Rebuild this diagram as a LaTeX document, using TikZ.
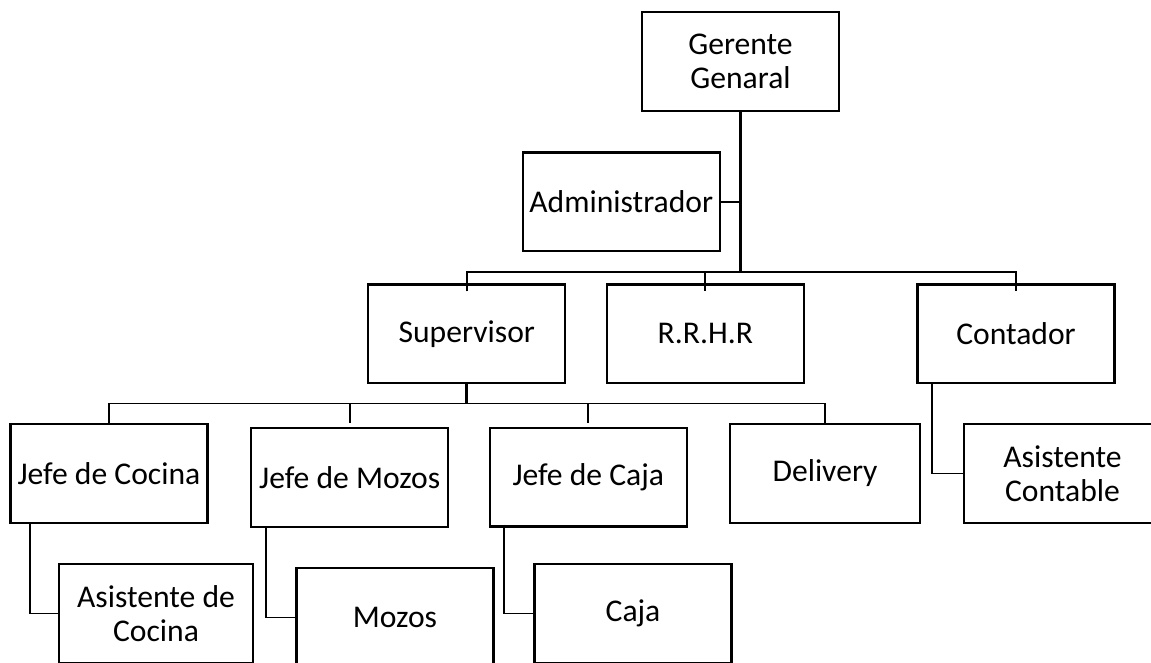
\documentclass[tikz,border=0pt]{standalone}
\usepackage{fontspec}
\setmainfont{Carlito}

\begin{document}
\begin{tikzpicture}[x=0.02cm, y=-0.02cm,
  box/.style={draw, black, line width=1.3pt, minimum width=3.94cm, minimum height=1.97cm, inner sep=2pt, align=center, font=\fontsize{18}{19.4}\selectfont},
  link/.style={black, line width=1.1pt},
  trunk/.style={black, line width=1.8pt}]
\useasboundingbox (0,0) rectangle (1151,662);
\clip (0,0) rectangle (1151,662);

\node[box] (gerente) at (740.5,61.5) {Gerente\\Genaral};
\node[box] (admin) at (621.3,201.7) {Administrador};
\node[box] (super) at (466.8,333.8) {Supervisor};
\node[box] (rrhr) at (705.3,333.8) {R.R.H.R};
\node[box] (contador) at (1016,333.8) {Contador};
\node[box] (jcocina) at (109,473.5) {Jefe de Cocina};
\node[box] (jmozos) at (349.7,477.5) {Jefe de Mozos};
\node[box] (jcaja) at (588.3,477.2) {Jefe de Caja};
\node[box, minimum width=3.8cm] (delivery) at (825,473.5) {Delivery};
\node[box] (acontable) at (1062.5,473.5) {Asistente\\Contable};
\node[box, minimum width=3.88cm] (acocina) at (156,613.5) {Asistente de\\Cocina};
\node[box] (mozos) at (395,617.5) {Mozos};
\node[box] (caja) at (633,613.5) {Caja};

\coordinate (bus1) at (740.5,272);
\coordinate (bus2) at (466.8,403.5);

\draw[trunk] (gerente.south) -- (gerente.south |- bus1);
\draw[link] (admin.east) -- (admin.east -| gerente.south);
\draw[link] ([yshift=-0.16cm]super.north) |- (bus1) -| ([yshift=-0.16cm]contador.north);
\draw[link] (rrhr.north |- bus1) -- ([yshift=-0.16cm]rrhr.north);

\draw[trunk] (super.south) -- (bus2);
\draw[link] (jcocina.north) |- (bus2) -| (delivery.north);
\draw[link] (jmozos.north |- bus2) -- ([yshift=0.08cm]jmozos.north);
\draw[link] (jcaja.north |- bus2) -- ([yshift=0.08cm]jcaja.north);

\draw[link] ([xshift=0.32cm]contador.south west) |- (acontable.west);
\draw[link] ([xshift=0.42cm]jcocina.south west) |- (acocina.west);
\draw[link] ([xshift=0.31cm]jmozos.south west) |- (mozos.west);
\draw[link] ([xshift=0.31cm, yshift=0.06cm]jcaja.south west) |- (caja.west);
\end{tikzpicture}
\end{document}
